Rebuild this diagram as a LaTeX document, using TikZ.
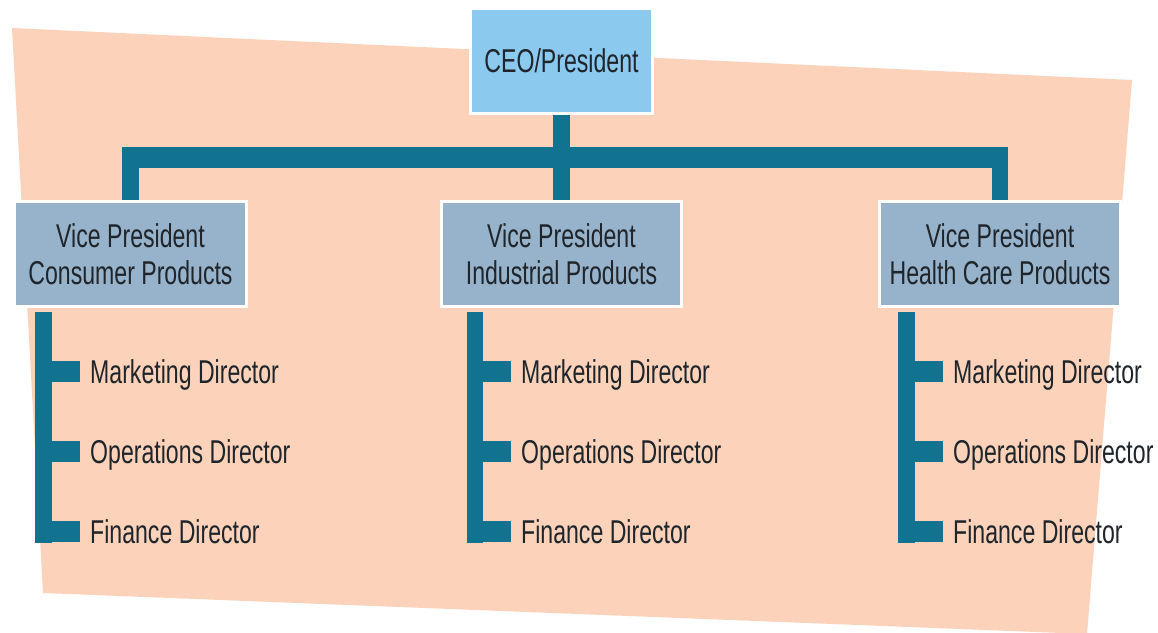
\documentclass[tikz,border=0pt]{standalone}
\usepackage{fontspec}
\setmainfont{Liberation Sans}[FakeStretch=0.70]
\usetikzlibrary{calc}
\definecolor{peach}{HTML}{FCD2BA}
\definecolor{barteal}{HTML}{11738F}
\definecolor{ceoblue}{HTML}{8CC9EE}
\definecolor{vpblue}{HTML}{97B3CB}
\definecolor{ink}{HTML}{1F252A}

\begin{document}
\begin{tikzpicture}[x=1pt,y=-1pt,
  box/.style={draw=white, line width=3pt, text=ink, align=center,
    font=\fontsize{33}{37}\selectfont, inner sep=0pt},
  ceobox/.style={box, fill=ceoblue, minimum width=182pt, minimum height=105pt},
  vpbox/.style={box, fill=vpblue, minimum height=105pt},
  director/.style={anchor=west, inner sep=0pt, text=ink,
    font=\fontsize{33}{37}\selectfont, text height=23.5pt, text depth=0pt},
  hbar/.style={draw=barteal, line width=21pt},
  vbar/.style={draw=barteal, line width=16.5pt},
  tick/.style={draw=barteal, line width=21pt},
]
% page and backdrop
\useasboundingbox[fill=white] (0,0) rectangle (1158,632);
\fill[peach] (12,28) -- (1132,80) -- (1087,634) -- (43,593) -- cycle;

% boxes
\node[ceobox] (ceo) at (561.5,61) {CEO/President};
\node[vpbox, minimum width=232pt] (vp1) at (130.5,254) {Vice President\\Consumer Products};
\node[vpbox, minimum width=240pt] (vp2) at (561.5,254) {Vice President\\Industrial Products};
\node[vpbox, minimum width=241pt] (vp3) at (1000,254) {Vice President\\Health Care Products};

% directors
\node[director] (d11) at (90,371.5) {Marketing Director};
\node[director] (d12) at (90,451.5) {Operations Director};
\node[director] (d13) at (90,531.5) {Finance Director};
\node[director] (d21) at (521,371.5) {Marketing Director};
\node[director] (d22) at (521,451.5) {Operations Director};
\node[director] (d23) at (521,531.5) {Finance Director};
\node[director] (d31) at (953,371.5) {Marketing Director};
\node[director] (d32) at (953,451.5) {Operations Director};
\node[director] (d33) at (953,531.5) {Finance Director};

% top-level connectors
\coordinate (hub) at ($(ceo.south)+(0,42.5)$);
\draw[vbar] (ceo.south) -- (hub);
\draw[hbar] ($(vp1.north |- hub)+(-8.25,0)$) -- ($(vp3.north |- hub)+(8.25,0)$);
\foreach \v in {vp1,vp2,vp3}
  \draw[vbar] ($(\v.north |- hub)+(0,-10)$) -- (\v.north);

% director brackets
\coordinate (s1) at (43.5,312);
\coordinate (s2) at (475,312);
\coordinate (s3) at (906.5,312);
\foreach \i in {1,2,3}{
  \draw[vbar] (s\i) -- (s\i |- d\i3.south);
  \foreach \j in {1,2,3}
    \draw[tick] ($(s\i |- d\i\j.west)+(-8.25,0)$) -- ($(d\i\j.west)+(-10,0)$);
}
\end{tikzpicture}
\end{document}
